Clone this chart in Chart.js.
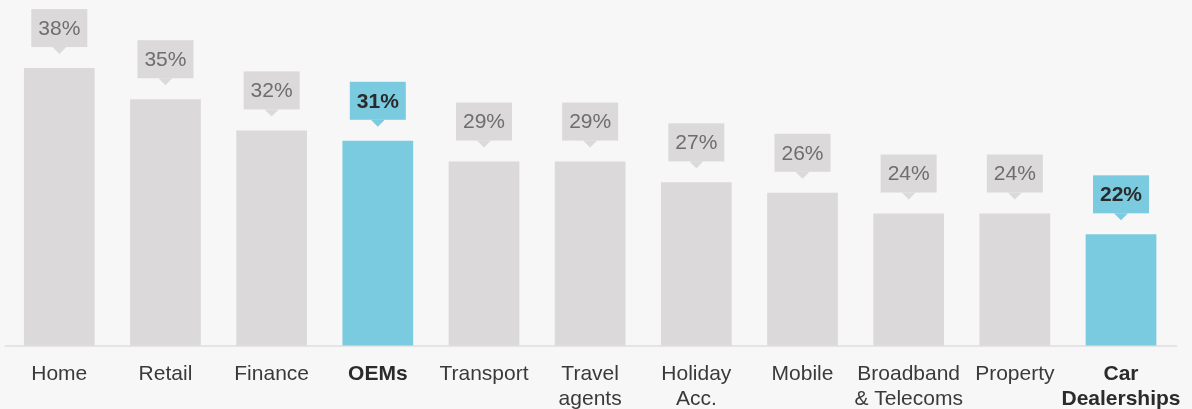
<!DOCTYPE html>
<html>
<head>
<meta charset="utf-8">
<script src="https://cdn.jsdelivr.net/npm/chart.js@4"></script>
<style>
  html, body { margin: 0; padding: 0; background: #f7f7f7; }
  #wrap { width: 1192px; height: 409px; }
</style>
</head>
<body>
<div id="wrap"><canvas id="barChart" width="1192" height="409"></canvas></div>
<script>
const categories = [
  "Home", "Retail", "Finance", "OEMs", "Transport", ["Travel", "agents"],
  ["Holiday", "Acc."], "Mobile", ["Broadband", "& Telecoms"], "Property", ["Car", "Dealerships"]
];
const values = [38, 35, 32, 31, 29, 29, 27, 26, 24, 24, 22];
const highlighted = [false, false, false, true, false, false, false, false, false, false, true];

const GREY = "#dbd9da";
const BLUE = "#7acbe0";
const FONT = "'Liberation Sans', Arial, sans-serif";

// linha de base um pouco mais larga que a área do gráfico
const baselinePlugin = {
  id: "baseline",
  beforeDatasetsDraw(chart) {
    const { ctx, chartArea } = chart;
    ctx.save();
    ctx.strokeStyle = "#dedede";
    ctx.lineWidth = 1.5;
    ctx.beginPath();
    ctx.moveTo(chartArea.left - 1.5, chartArea.bottom + 0.5);
    ctx.lineTo(chartArea.right + 3, chartArea.bottom + 0.5);
    ctx.stroke();
    ctx.restore();
  }
};

// etiquetas tipo balão acima das barras
const calloutPlugin = {
  id: "callouts",
  afterDatasetsDraw(chart) {
    const ctx = chart.ctx;
    const meta = chart.getDatasetMeta(0);
    meta.data.forEach((bar, i) => {
      const w = 56, h = 38, tip = 7, gap = 14;
      const cx = bar.x;
      const bottom = bar.y - gap - tip;
      const top = bottom - h;
      ctx.save();
      ctx.fillStyle = highlighted[i] ? BLUE : GREY;
      ctx.fillRect(cx - w / 2, top, w, h);
      ctx.beginPath();
      ctx.moveTo(cx - tip, bottom);
      ctx.lineTo(cx + tip, bottom);
      ctx.lineTo(cx, bottom + tip);
      ctx.closePath();
      ctx.fill();
      ctx.font = (highlighted[i] ? "bold " : "") + "21px " + FONT;
      ctx.fillStyle = highlighted[i] ? "#2b2b2b" : "#6e6e6e";
      ctx.textAlign = "center";
      ctx.textBaseline = "middle";
      ctx.fillText(values[i] + "%", cx, top + h / 2 + 1);
      ctx.restore();
    });
  }
};

const ctxBar = document.getElementById("barChart").getContext("2d");
new Chart(ctxBar, {
  type: "bar",
  data: {
    labels: categories,
    datasets: [{
      data: values,
      backgroundColor: highlighted.map((h) => (h ? BLUE : GREY)),
      categoryPercentage: 1,
      barPercentage: 0.666,
    }],
  },
  options: {
    responsive: false,
    animation: false,
    layout: { padding: { left: 6.2, right: 17.9, top: 0, bottom: 0 } },
    plugins: { legend: { display: false }, tooltip: { enabled: false } },
    scales: {
      y: { display: false, min: 11.3, max: 44.55 },
      x: {
        afterFit(scale) {
          scale.height = 63.5;
          scale.paddingLeft = 0;
          scale.paddingRight = 0;
        },
        grid: { display: false, drawTicks: false },
        border: { display: false },
        ticks: {
          padding: 16,
          maxRotation: 0,
          autoSkip: false,
          color: (c) => (highlighted[c.index] ? "#2b2b2b" : "#3a3a3a"),
          font: (c) => ({
            family: FONT,
            size: 21,
            lineHeight: 1.2,
            weight: highlighted[c.index] ? "bold" : "normal",
          }),
        },
      },
    },
  },
  plugins: [baselinePlugin, calloutPlugin],
});
</script>
</body>
</html>
